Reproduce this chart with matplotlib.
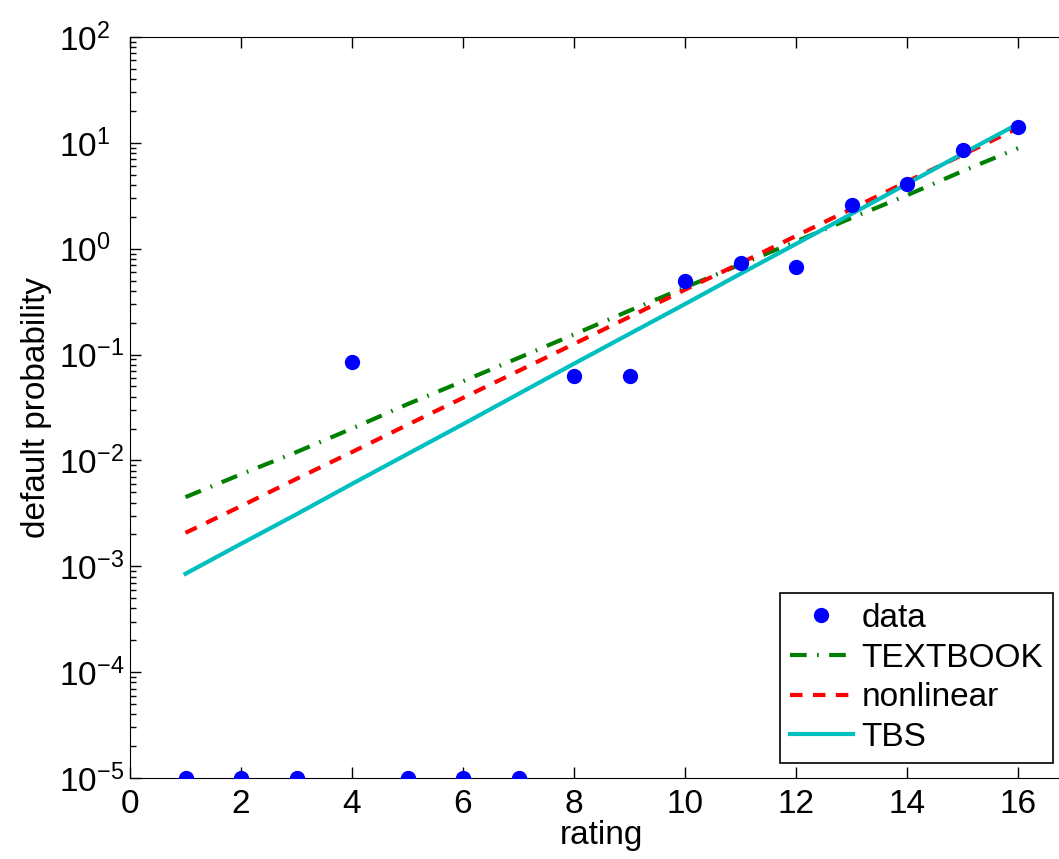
import matplotlib
matplotlib.use("Agg")
import matplotlib.pyplot as plt
from matplotlib.ticker import LogLocator, NullFormatter, FixedLocator

plt.rcParams['font.family'] = ['Liberation Sans', 'DejaVu Sans']
plt.rcParams['mathtext.fontset'] = 'custom'
plt.rcParams['mathtext.rm'] = 'Liberation Sans'

# данные
rating = list(range(1, 17))
data = [1e-5, 1e-5, 1e-5, 0.085, 1e-5, 1e-5, 1e-5, 0.063, 0.063, 0.50,
        0.73, 0.67, 2.6, 4.1, 8.6, 14.0]
textbook = [0.0045, 0.0074, 0.012, 0.020, 0.034, 0.056, 0.093, 0.155, 0.26, 0.43,
            0.71, 1.17, 1.95, 3.2, 5.4, 8.9]
nonlinear = [0.00207, 0.0037, 0.0067, 0.012, 0.0217, 0.039, 0.070, 0.126, 0.227, 0.41,
             0.73, 1.32, 2.38, 4.3, 7.7, 13.8]
tbs = [0.00085, 0.00163, 0.0031, 0.0060, 0.0115, 0.022, 0.0425, 0.082, 0.157, 0.30,
       0.58, 1.11, 2.13, 4.1, 7.9, 15.1]
xticks = [0, 2, 4, 6, 8, 10, 12, 14, 16]
yticks = [1e-5, 1e-4, 1e-3, 1e-2, 1e-1, 1e0, 1e1, 1e2]

fig = plt.figure(figsize=(10.59, 8.59), dpi=100)
# правая граница осей (x = 17) уходит за край картинки
ax = fig.add_axes([130 / 1059, 1 - 778 / 859, 943.5 / 1059, 741 / 859])

ax.plot(rating, data, 'o', color='blue', markersize=10, label='data', zorder=3)
ax.plot(rating, textbook, color=(0, 0.5, 0), linewidth=3, dashes=(4, 2.5, 0.4, 2.5), label='TEXTBOOK')
ax.plot(rating, nonlinear, color='red', linewidth=3, dashes=(3, 2.5), label='nonlinear')
ax.plot(rating, tbs, color=(0, 0.75, 0.75), linewidth=3, label='TBS')

ax.set_yscale('log')
ax.set_xlim(0, 17)
ax.set_ylim(1e-5, 1e2)
ax.xaxis.set_major_locator(FixedLocator(xticks))
ax.yaxis.set_major_locator(FixedLocator(yticks))
ax.yaxis.set_minor_locator(LogLocator(base=10, subs=range(2, 10), numticks=20))
ax.yaxis.set_minor_formatter(NullFormatter())

ax.tick_params(which='both', direction='in', top=True, right=True, labelsize=24)
ax.tick_params(which='major', length=8, width=1)
ax.tick_params(which='minor', length=4, width=1)
ax.tick_params(axis='x', pad=8)
# как в MATLAB: подписи оси y выровнены по левому краю
ax.tick_params(axis='y', pad=51)
plt.setp(ax.get_yticklabels(), ha='left')

ax.set_xlabel('rating', fontsize=24, labelpad=0)
ax.set_ylabel('default probability', fontsize=24)
ax.yaxis.set_label_coords(-0.083, 0.5)

leg = ax.legend(loc='lower right', bbox_to_anchor=(1053 / 1059, 1 - 763 / 859),
                bbox_transform=fig.transFigure, borderaxespad=0,
                fontsize=24, fancybox=False, edgecolor='black', framealpha=1,
                handlelength=1.9, handletextpad=0.25, borderpad=0.3, labelspacing=0.26)
leg.get_frame().set_linewidth(1.2)

fig.savefig('out.png', dpi=100)
